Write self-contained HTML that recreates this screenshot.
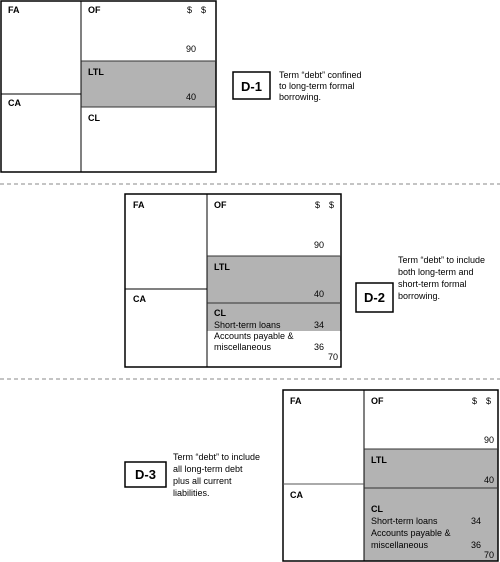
<!DOCTYPE html>
<html><head><meta charset="utf-8"><style>
html,body{margin:0;padding:0;background:#fff;}
svg{display:block;font-family:"Liberation Sans",Arial,sans-serif;}
.b{font-weight:bold;font-size:9px;}
.t{font-size:9px;}
</style></head><body>
<svg width="500" height="562" viewBox="0 0 500 562" xmlns="http://www.w3.org/2000/svg">
<!-- Diagram 1 -->
<rect x="81" y="61" width="135" height="46" fill="#b3b3b3"/>
<rect x="1" y="1" width="215" height="171" fill="none" stroke="#000" stroke-width="1.5"/>
<line x1="81" y1="1" x2="81" y2="172" stroke="#000"/>
<line x1="1" y1="94" x2="81" y2="94" stroke="#000"/>
<line x1="81" y1="61" x2="216" y2="61" stroke="#333"/>
<line x1="81" y1="107" x2="216" y2="107" stroke="#333"/>
<text class="b" x="8" y="13">FA</text>
<text class="b" x="8" y="106">CA</text>
<text class="b" x="88" y="13">OF</text>
<text class="t" x="187" y="13">$</text><text class="t" x="201" y="13">$</text>
<text class="t" x="186" y="52">90</text>
<text class="b" x="88" y="75">LTL</text>
<text class="t" x="186" y="100">40</text>
<text class="b" x="88" y="121">CL</text>
<rect x="233" y="72" width="37" height="27" fill="#fff" stroke="#000" stroke-width="1.5"/>
<text x="251.5" y="91" text-anchor="middle" font-weight="bold" font-size="13">D-1</text>
<text class="t" x="279" y="78">Term “debt” confined</text>
<text class="t" x="279" y="89">to long-term formal</text>
<text class="t" x="279" y="100">borrowing.</text>
<line x1="0" y1="184" x2="500" y2="184" stroke="#888" stroke-dasharray="4,3"/>
<!-- Diagram 2 -->
<rect x="207" y="256" width="134" height="75" fill="#b3b3b3"/>
<rect x="125" y="194" width="216" height="173" fill="none" stroke="#000" stroke-width="1.5"/>
<line x1="207" y1="194" x2="207" y2="367" stroke="#000"/>
<line x1="125" y1="289" x2="207" y2="289" stroke="#000"/>
<line x1="207" y1="256" x2="341" y2="256" stroke="#333"/>
<line x1="207" y1="303" x2="341" y2="303" stroke="#333"/>
<text class="b" x="133" y="208">FA</text>
<text class="b" x="133" y="302">CA</text>
<text class="b" x="214" y="208">OF</text>
<text class="t" x="315" y="208">$</text><text class="t" x="329" y="208">$</text>
<text class="t" x="314" y="248">90</text>
<text class="b" x="214" y="270">LTL</text>
<text class="t" x="314" y="297">40</text>
<text class="b" x="214" y="316">CL</text>
<text class="t" x="214" y="328">Short-term loans</text><text class="t" x="314" y="328">34</text>
<text class="t" x="214" y="339">Accounts payable &amp;</text>
<text class="t" x="214" y="350">miscellaneous</text><text class="t" x="314" y="350">36</text>
<text class="t" x="328" y="360">70</text>
<rect x="356" y="283" width="37" height="29" fill="#fff" stroke="#000" stroke-width="1.5"/>
<text x="374.5" y="302" text-anchor="middle" font-weight="bold" font-size="13">D-2</text>
<text class="t" x="398" y="263">Term “debt” to include</text>
<text class="t" x="398" y="275">both long-term and</text>
<text class="t" x="398" y="287">short-term formal</text>
<text class="t" x="398" y="299">borrowing.</text>
<line x1="0" y1="379" x2="500" y2="379" stroke="#888" stroke-dasharray="4,3"/>
<!-- Diagram 3 -->
<rect x="364" y="449" width="134" height="112" fill="#b3b3b3"/>
<rect x="283" y="390" width="215" height="171" fill="none" stroke="#000" stroke-width="1.5"/>
<line x1="364" y1="390" x2="364" y2="561" stroke="#000"/>
<line x1="283" y1="484" x2="364" y2="484" stroke="#555"/>
<line x1="364" y1="449" x2="498" y2="449" stroke="#333"/>
<line x1="364" y1="488" x2="498" y2="488" stroke="#333"/>
<text class="b" x="290" y="404">FA</text>
<text class="b" x="290" y="498">CA</text>
<text class="b" x="371" y="404">OF</text>
<text class="t" x="472" y="404">$</text><text class="t" x="486" y="404">$</text>
<text class="t" x="484" y="443">90</text>
<text class="b" x="371" y="463">LTL</text>
<text class="t" x="484" y="483">40</text>
<text class="b" x="371" y="512">CL</text>
<text class="t" x="371" y="524">Short-term loans</text><text class="t" x="471" y="524">34</text>
<text class="t" x="371" y="536">Accounts payable &amp;</text>
<text class="t" x="371" y="548">miscellaneous</text><text class="t" x="471" y="548">36</text>
<text class="t" x="484" y="558">70</text>
<rect x="125" y="462" width="41" height="25" fill="#fff" stroke="#000" stroke-width="1.5"/>
<text x="145.5" y="479" text-anchor="middle" font-weight="bold" font-size="13">D-3</text>
<text class="t" x="173" y="460">Term “debt” to include</text>
<text class="t" x="173" y="472">all long-term debt</text>
<text class="t" x="173" y="484">plus all current</text>
<text class="t" x="173" y="496">liabilities.</text>
</svg>
</body></html>
